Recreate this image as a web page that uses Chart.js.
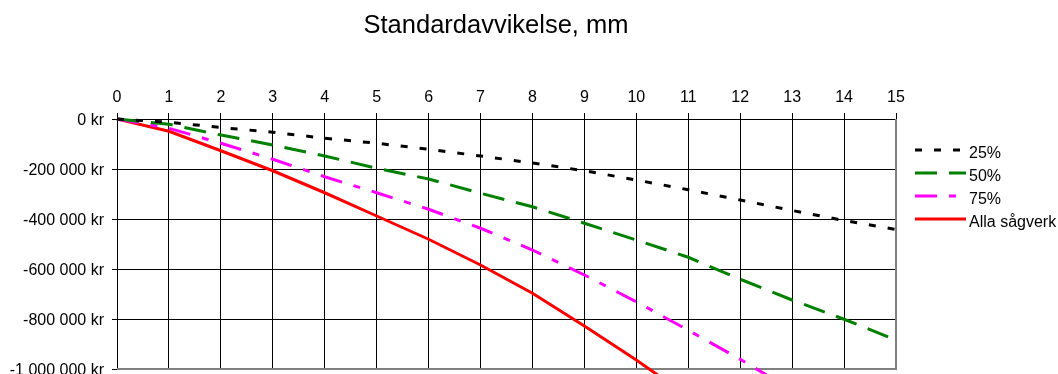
<!DOCTYPE html>
<html lang="sv">
<head>
<meta charset="utf-8">
<title>Standardavvikelse, mm</title>
<script src="https://cdn.jsdelivr.net/npm/chart.js@4/dist/chart.umd.min.js"></script>
<style>
  html, body { margin: 0; padding: 0; background: #fff; overflow: hidden; }
  #wrap { width: 1058px; height: 374px; overflow: hidden; }
  canvas { display: block; }
</style>
</head>
<body>
<div id="wrap"><canvas id="c" width="1058" height="400"></canvas></div>
<script>
// Standardavvikelse (mm) along the x axis
const sd = [0, 1, 2, 3, 4, 5, 6, 7, 8, 9, 10, 11, 12, 13, 14, 15];

// Cost in kr per series
const p25 = [0, -13000, -34000, -53000, -77000, -97000, -121000, -148000, -176000, -207000, -244000, -283000, -324000, -366000, -406000, -442000];
const p50 = [0, -21000, -64000, -104000, -148000, -197000, -240000, -297000, -351000, -417000, -484000, -553000, -641000, -724000, -801000, -884000];
const p75 = [0, -37000, -97000, -161000, -231000, -295000, -361000, -437000, -524000, -624000, -731000, -845000, -961000, -1085000, null, null];
const alla = [0, -49000, -127000, -207000, -295000, -388000, -481000, -584000, -697000, -828000, -964000, -1110000, null, null, null, null];

const seriesNames = ['25%', '50%', '75%', 'Alla sågverk'];
const yTicks = [0, -200000, -400000, -600000, -800000, -1000000];

const FONT = '"Liberation Sans", Arial, sans-serif';

const styles = [
  { color: '#000000', dash: [7, 12] },
  { color: '#008000', dash: [22, 12] },
  { color: '#FF00FF', dash: [22, 12, 7, 12] },
  { color: '#FF0000', dash: [] }
];

function pts(arr) {
  return sd.map((x, i) => ({ x: x, y: arr[i] }));
}

function kr(v) {
  const n = Math.round(Math.abs(v)).toString().replace(/\B(?=(\d{3})+(?!\d))/g, ' ');
  return (v < 0 ? '-' : '') + n + ' kr';
}

const datasets = [p25, p50, p75, alla].map((arr, i) => ({
  label: seriesNames[i],
  data: pts(arr),
  borderColor: styles[i].color,
  backgroundColor: styles[i].color,
  borderDash: styles[i].dash,
  borderWidth: 3,
  pointRadius: 0,
  tension: 0,
  spanGaps: false,
  clip: false
}));

// Title above the plot
const titlePlugin = {
  id: 'topTitle',
  afterDraw(chart) {
    const ctx = chart.ctx;
    ctx.save();
    ctx.font = '25.5px ' + FONT;
    ctx.fillStyle = '#000';
    ctx.textAlign = 'center';
    ctx.textBaseline = 'alphabetic';
    ctx.fillText('Standardavvikelse, mm', 496, 33);
    ctx.restore();
  }
};

// Grey frame on the right and bottom of the plot area
const framePlugin = {
  id: 'plotFrame',
  beforeDatasetsDraw(chart) {
    const a = chart.chartArea;
    const ctx = chart.ctx;
    ctx.save();
    ctx.strokeStyle = '#808080';
    ctx.lineWidth = 2;
    ctx.beginPath();
    ctx.moveTo(a.right, a.top);
    ctx.lineTo(a.right, a.bottom);
    ctx.lineTo(a.left, a.bottom);
    ctx.stroke();
    ctx.restore();
  }
};

// Legend with line samples to the right of the plot
const legendPlugin = {
  id: 'sideLegend',
  afterDraw(chart) {
    const ctx = chart.ctx;
    const x0 = 915, x1 = 966, textX = 969;
    const lineY = [150, 173, 196, 219];
    ctx.save();
    chart.data.datasets.forEach((ds, i) => {
      ctx.strokeStyle = ds.borderColor;
      ctx.lineWidth = 3;
      ctx.setLineDash(ds.borderDash || []);
      ctx.beginPath();
      ctx.moveTo(x0, lineY[i]);
      ctx.lineTo(x1, lineY[i]);
      ctx.stroke();
      ctx.setLineDash([]);
      ctx.font = '16px ' + FONT;
      ctx.fillStyle = '#000';
      ctx.textAlign = 'left';
      ctx.textBaseline = 'alphabetic';
      ctx.fillText(ds.label, textX, lineY[i] + 8);
    });
    ctx.restore();
  }
};

new Chart(document.getElementById('c'), {
  type: 'line',
  data: { datasets: datasets },
  options: {
    responsive: false,
    animation: false,
    events: [],
    layout: { padding: { top: 60, right: 162, bottom: 31, left: 0 } },
    plugins: {
      legend: { display: false },
      title: { display: false },
      tooltip: { enabled: false }
    },
    scales: {
      x: {
        type: 'linear',
        position: 'top',
        min: 0,
        max: 15,
        afterFit(s) { s.height = 59; },
        ticks: {
          stepSize: 1,
          color: '#000',
          font: { family: FONT, size: 16 },
          padding: 6,
          maxRotation: 0,
          autoSkip: false
        },
        grid: { color: '#000', lineWidth: 1, tickLength: 6, drawTicks: true },
        border: { display: true, color: '#000', width: 1 }
      },
      y: {
        type: 'linear',
        min: -1000000,
        max: 0,
        afterFit(s) { s.width = 117; },
        afterBuildTicks(s) { s.ticks = yTicks.map(v => ({ value: v })); },
        ticks: {
          color: '#000',
          font: { family: FONT, size: 16 },
          padding: 8,
          labelOffset: 2,
          callback: (v) => kr(v)
        },
        grid: { color: '#000', lineWidth: 1, tickLength: 5, drawTicks: true },
        border: { display: true, color: '#000', width: 1 }
      }
    }
  },
  plugins: [framePlugin, titlePlugin, legendPlugin]
});
</script>
</body>
</html>
